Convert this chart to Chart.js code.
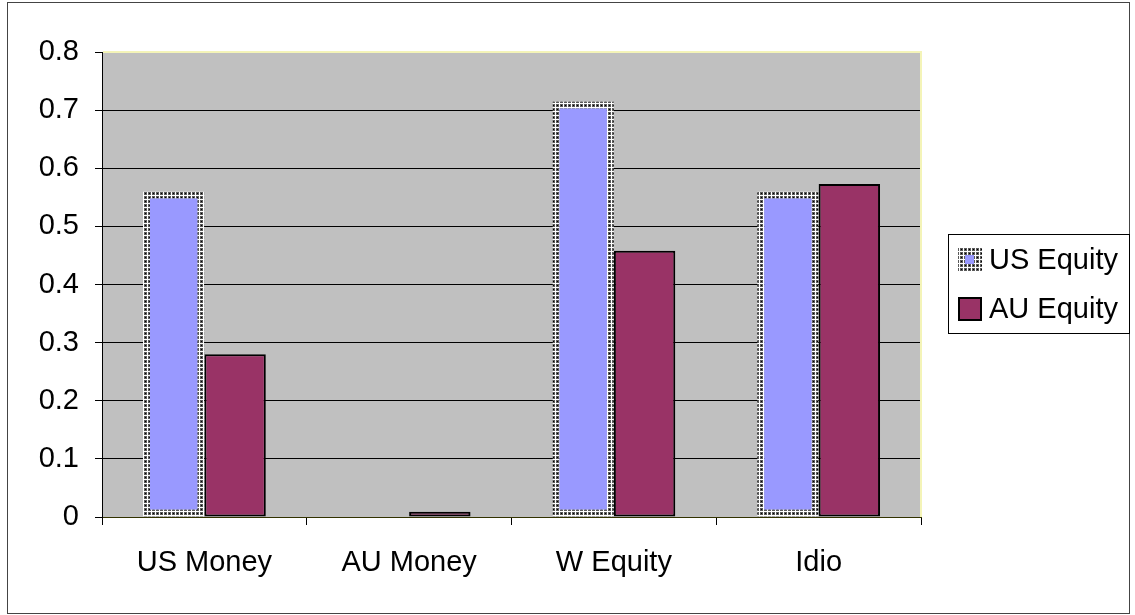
<!DOCTYPE html>
<html>
<head>
<meta charset="utf-8">
<title>Grafico</title>
<script src="https://cdn.jsdelivr.net/npm/chart.js@4.4.0/dist/chart.umd.min.js"></script>
<style>
  body { margin: 0; background: #fff; }
  #myChart { display: block; }
</style>
</head>
<body>
<canvas id="myChart" width="1135" height="615"></canvas>
<script>
// dados do grafico
const categorias = ['US Money', 'AU Money', 'W Equity', 'Idio'];
const usEquity = [0.56, 0, 0.715, 0.56];
const auEquity = [0.28, 0.009, 0.458, 0.573];
const ticksY = [0, 0.1, 0.2, 0.3, 0.4, 0.5, 0.6, 0.7, 0.8];

const fonte = '"Liberation Sans", Arial, sans-serif';

// padrao pontilhado (borda das barras US Equity)
const criarPadrao = () => {
    const c = document.createElement('canvas');
    c.width = 4;
    c.height = 4;
    const g = c.getContext('2d');
    g.fillStyle = '#fff';
    g.fillRect(0, 0, 4, 4);
    g.fillStyle = '#5a5a5a';
    g.fillRect(0, 0, 3, 3);
    g.fillStyle = '#000';
    g.fillRect(1, 1, 1, 1);
    return g.createPattern(c, 'repeat');
};
const pontilhado = criarPadrao();

// fundo cinza da area do grafico e moldura externa
const fundoPlot = {
    id: 'fundoPlot',
    beforeDraw(chart) {
        const { ctx, chartArea: a } = chart;
        ctx.save();
        ctx.fillStyle = '#fff';
        ctx.fillRect(0, 0, chart.width, chart.height);
        ctx.fillStyle = '#c0c0c0';
        ctx.fillRect(a.left, a.top, a.right - a.left, a.bottom - a.top);
        ctx.strokeStyle = '#444';
        ctx.lineWidth = 1;
        ctx.strokeRect(7.5, 2.5, 1122, 611);
        ctx.restore();
    },
    beforeDatasetsDraw(chart) {
        // borda amarelada em cima e na direita
        const { ctx, chartArea: a } = chart;
        ctx.save();
        ctx.strokeStyle = '#f4f4b8';
        ctx.lineWidth = 2;
        ctx.beginPath();
        ctx.moveTo(a.left + 1, a.top);
        ctx.lineTo(a.right, a.top);
        ctx.lineTo(a.right, a.bottom);
        ctx.stroke();
        ctx.restore();
    }
};

// legenda com caixa, desenhada a mao
const legendaCaixa = {
    id: 'legendaCaixa',
    afterDraw(chart) {
        const ctx = chart.ctx;
        const ds = chart.data.datasets;
        const x = 948, y = 234, w = 182, h = 100;
        ctx.save();
        ctx.fillStyle = '#fff';
        ctx.fillRect(x, y, w, h);
        ctx.strokeStyle = '#000';
        ctx.lineWidth = 1;
        ctx.strokeRect(x + 0.5, y + 0.5, w - 1, h - 1);
        ctx.font = '29px ' + fonte;
        ctx.textBaseline = 'middle';
        ds.forEach((d, i) => {
            const cy = y + 26 + i * 49;
            const sx = 958, s = 24;
            if (i === 0) {
                ctx.fillStyle = pontilhado;
                ctx.fillRect(sx, cy - s / 2, s, s);
                ctx.fillStyle = d.backgroundColor;
                ctx.fillRect(sx + 7, cy - 5, 9, 9);
            } else {
                ctx.fillStyle = d.backgroundColor;
                ctx.fillRect(sx, cy - s / 2, s, s);
                ctx.strokeStyle = '#000';
                ctx.lineWidth = 2;
                ctx.strokeRect(sx + 1, cy - s / 2 + 1, s - 2, s - 2);
            }
            ctx.fillStyle = '#000';
            ctx.fillText(d.label, 989, cy + 1);
        });
        ctx.restore();
    }
};

window.onload = () => {
    const ctx = document.getElementById('myChart');
    const data = {
        labels: categorias,
        datasets: [
            {
                label: 'US Equity',
                data: usEquity,
                backgroundColor: '#9999ff',
                borderColor: pontilhado,
                borderWidth: 7,
                borderSkipped: false
            },
            {
                label: 'AU Equity',
                data: auEquity,
                backgroundColor: '#993366',
                borderColor: '#000',
                borderWidth: 2,
                borderSkipped: false
            }
        ]
    };

    new Chart(ctx, {
        type: 'bar',
        data: data,
        options: {
            responsive: false,
            animation: false,
            devicePixelRatio: 1,
            categoryPercentage: 0.6,
            barPercentage: 1.0,
            layout: { padding: { top: 52, right: 214, bottom: 0, left: 0 } },
            plugins: {
                legend: { display: false },
                tooltip: { enabled: false }
            },
            scales: {
                x: {
                    grid: { drawOnChartArea: false, drawTicks: true, tickLength: 8, color: '#000', offset: true },
                    border: { color: '#333300' },
                    ticks: { color: '#000', font: { family: fonte, size: 29 }, padding: 21 },
                    afterFit: s => { s.height = 98; }
                },
                y: {
                    min: 0,
                    max: 0.8,
                    afterBuildTicks: s => { s.ticks = ticksY.map(v => ({ value: v })); },
                    grid: { color: '#000', tickLength: 7 },
                    border: { color: '#000' },
                    ticks: { color: '#000', font: { family: fonte, size: 29 }, padding: 16, callback: v => String(v) },
                    afterFit: s => { s.width = 102; }
                }
            }
        },
        plugins: [fundoPlot, legendaCaixa]
    });
};
</script>
</body>
</html>
